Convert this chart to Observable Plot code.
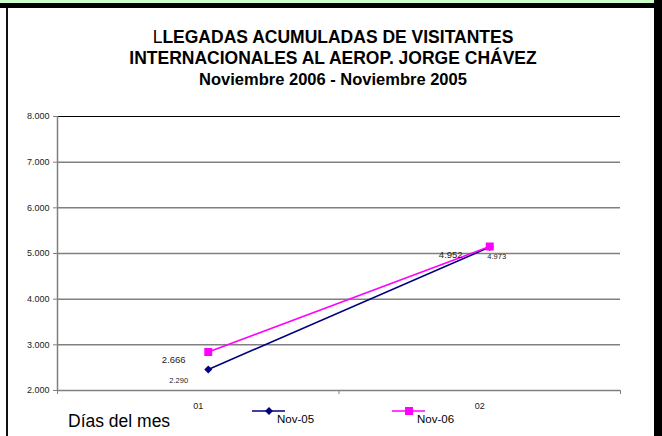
<!DOCTYPE html>
<html>
<head>
<meta charset="utf-8">
<script src="https://cdn.jsdelivr.net/npm/d3@7"></script>
<script src="https://cdn.jsdelivr.net/npm/@observablehq/plot@0.6"></script>
<style>
  html, body { margin: 0; padding: 0; background: #fff; }
  body { width: 662px; height: 436px; position: relative; overflow: hidden; font-family: Arial, "Liberation Sans", sans-serif; }
  #chart { position: absolute; left: 0; top: 0; z-index: 1; }
  #frame { position: absolute; left: 0; top: 0; z-index: 5; pointer-events: none; }
  #title { position: absolute; left: 2px; width: 662px; top: 27px; text-align: center; font-weight: bold; font-size: 17.5px; line-height: 21px; color: #000; z-index: 3; }
  #title .l3 { font-size: 16.5px; }
  #xlabel { position: absolute; left: 68px; top: 411px; font-size: 17.5px; color: #000; white-space: nowrap; z-index: 3; }
  .leg { position: absolute; font-size: 11.5px; color: #000; white-space: nowrap; z-index: 3; }
</style>
</head>
<body>
<div id="chart"></div>
<svg id="frame" width="662" height="436" xmlns="http://www.w3.org/2000/svg">
  <rect x="0" y="0" width="654" height="3" fill="#ccffcc"/>
  <rect x="0" y="3" width="662" height="5" fill="#000"/>
  <rect x="6" y="8" width="2" height="428" fill="#111"/>
  <rect x="654" y="0" width="8" height="436" fill="#000"/>
</svg>
<div id="title"><span style="font-weight:normal">L</span>LEGADAS ACUMULADAS DE VISITANTES<br>INTERNACIONALES AL AEROP. JORGE CHÁVEZ<br><span class="l3">Noviembre 2006 - Noviembre 2005</span></div>
<div id="xlabel">Días del mes</div>
<script>
// ---- data ----
const categories = ["01", "02"];
const nov05 = [2460, 5140];          // plotted positions (as drawn)
const nov06 = [2843, 5153];
const nov05Labels = ["2.290", "4.952"];
const nov06Labels = ["2.666", "4.973"];
const yTicks = [2000, 3000, 4000, 5000, 6000, 7000, 8000];
const seriesNames = ["Nov-05", "Nov-06"];
const seriesColors = ["#000080", "#ff00ff"];

const fmt = d => d3.format(",")(d).replace(/,/g, ".");
const rows05 = categories.map((c, i) => ({cat: c, x: i + 0.5, y: nov05[i], label: nov05Labels[i]}));
const rows06 = categories.map((c, i) => ({cat: c, x: i + 0.5, y: nov06[i], label: nov06Labels[i]}));

const chart = Plot.plot({
  width: 662,
  height: 436,
  marginLeft: 57,
  marginRight: 42,
  marginTop: 116,
  marginBottom: 46,
  style: {fontFamily: "Arial, 'Liberation Sans', sans-serif", background: "transparent"},
  x: {type: "linear", domain: [0, categories.length], axis: null, label: null},
  y: {domain: [2000, 8000], axis: null, label: null},
  marks: [
    Plot.ruleY(yTicks.filter(d => d !== 8000), {stroke: "#808080", strokeWidth: 1.5}),
    Plot.ruleY(yTicks.filter(d => d === 8000), {stroke: "#000", strokeWidth: 1.2}),
    Plot.ruleX([0], {y1: 2000, y2: 8000, stroke: "#808080", strokeWidth: 1.5}),
    Plot.axisY({ticks: yTicks, tickFormat: fmt, tickSize: 4, tickPadding: 4, fontSize: 9, stroke: "#808080", color: "#222", label: null}),
    Plot.axisX({ticks: d3.range(categories.length + 1), tickFormat: () => "", tickSize: 4, stroke: "#808080", label: null}),
    Plot.text(categories, {x: (d, i) => i + 0.5, y: () => 2000, dy: 16, text: d => d, fontSize: 9, fill: "#222"}),
    Plot.line(rows05, {x: "x", y: "y", stroke: seriesColors[0], strokeWidth: 1.6, dx: 10}),
    Plot.line(rows06, {x: "x", y: "y", stroke: seriesColors[1], strokeWidth: 1.6, dx: 10}),
    Plot.dot(rows05, {x: "x", y: "y", symbol: "diamond2", r: 3.6, fill: seriesColors[0], stroke: "none", dx: 10}),
    Plot.dot(rows06, {x: "x", y: "y", symbol: "square", r: 4.5, fill: seriesColors[1], stroke: "none", dx: 10}),
    // data labels
    Plot.text(rows06.slice(0, 1), {x: "x", y: "y", text: "label", dx: -24.5, dy: 8, fontSize: 9.5, fill: "#222"}),
    Plot.text(rows05.slice(0, 1), {x: "x", y: "y", text: "label", dx: -19.5, dy: 11, fontSize: 7.5, fill: "#222"}),
    Plot.text(rows05.slice(1, 2), {x: "x", y: "y", text: "label", dx: -29, dy: 8, fontSize: 9.5, fill: "#222"}),
    Plot.text(rows06.slice(1, 2), {x: "x", y: "y", text: "label", dx: 17, dy: 10, fontSize: 7.5, fill: "#222"})
  ]
});
document.getElementById("chart").appendChild(chart);

// legend
const legLeft = [252, 392];
seriesNames.forEach((name, i) => {
  const sw = document.createElementNS("http://www.w3.org/2000/svg", "svg");
  sw.setAttribute("width", 34);
  sw.setAttribute("height", 12);
  sw.style.position = "absolute";
  sw.style.left = legLeft[i] + "px";
  sw.style.top = "405px";
  sw.style.zIndex = 3;
  const c = seriesColors[i];
  let shape = i === 0
    ? `<path d="M17,2 L21,6 L17,10 L13,6 Z" fill="${c}"/>`
    : `<rect x="13" y="2" width="8" height="8" fill="${c}"/>`;
  sw.innerHTML = `<line x1="0" x2="33" y1="6" y2="6" stroke="${c}" stroke-width="1.6"/>` + shape;
  document.body.appendChild(sw);
  const t = document.createElement("div");
  t.className = "leg";
  t.textContent = name;
  t.style.left = (legLeft[i] + 25) + "px";
  t.style.top = "413px";
  document.body.appendChild(t);
});
</script>
</body>
</html>
